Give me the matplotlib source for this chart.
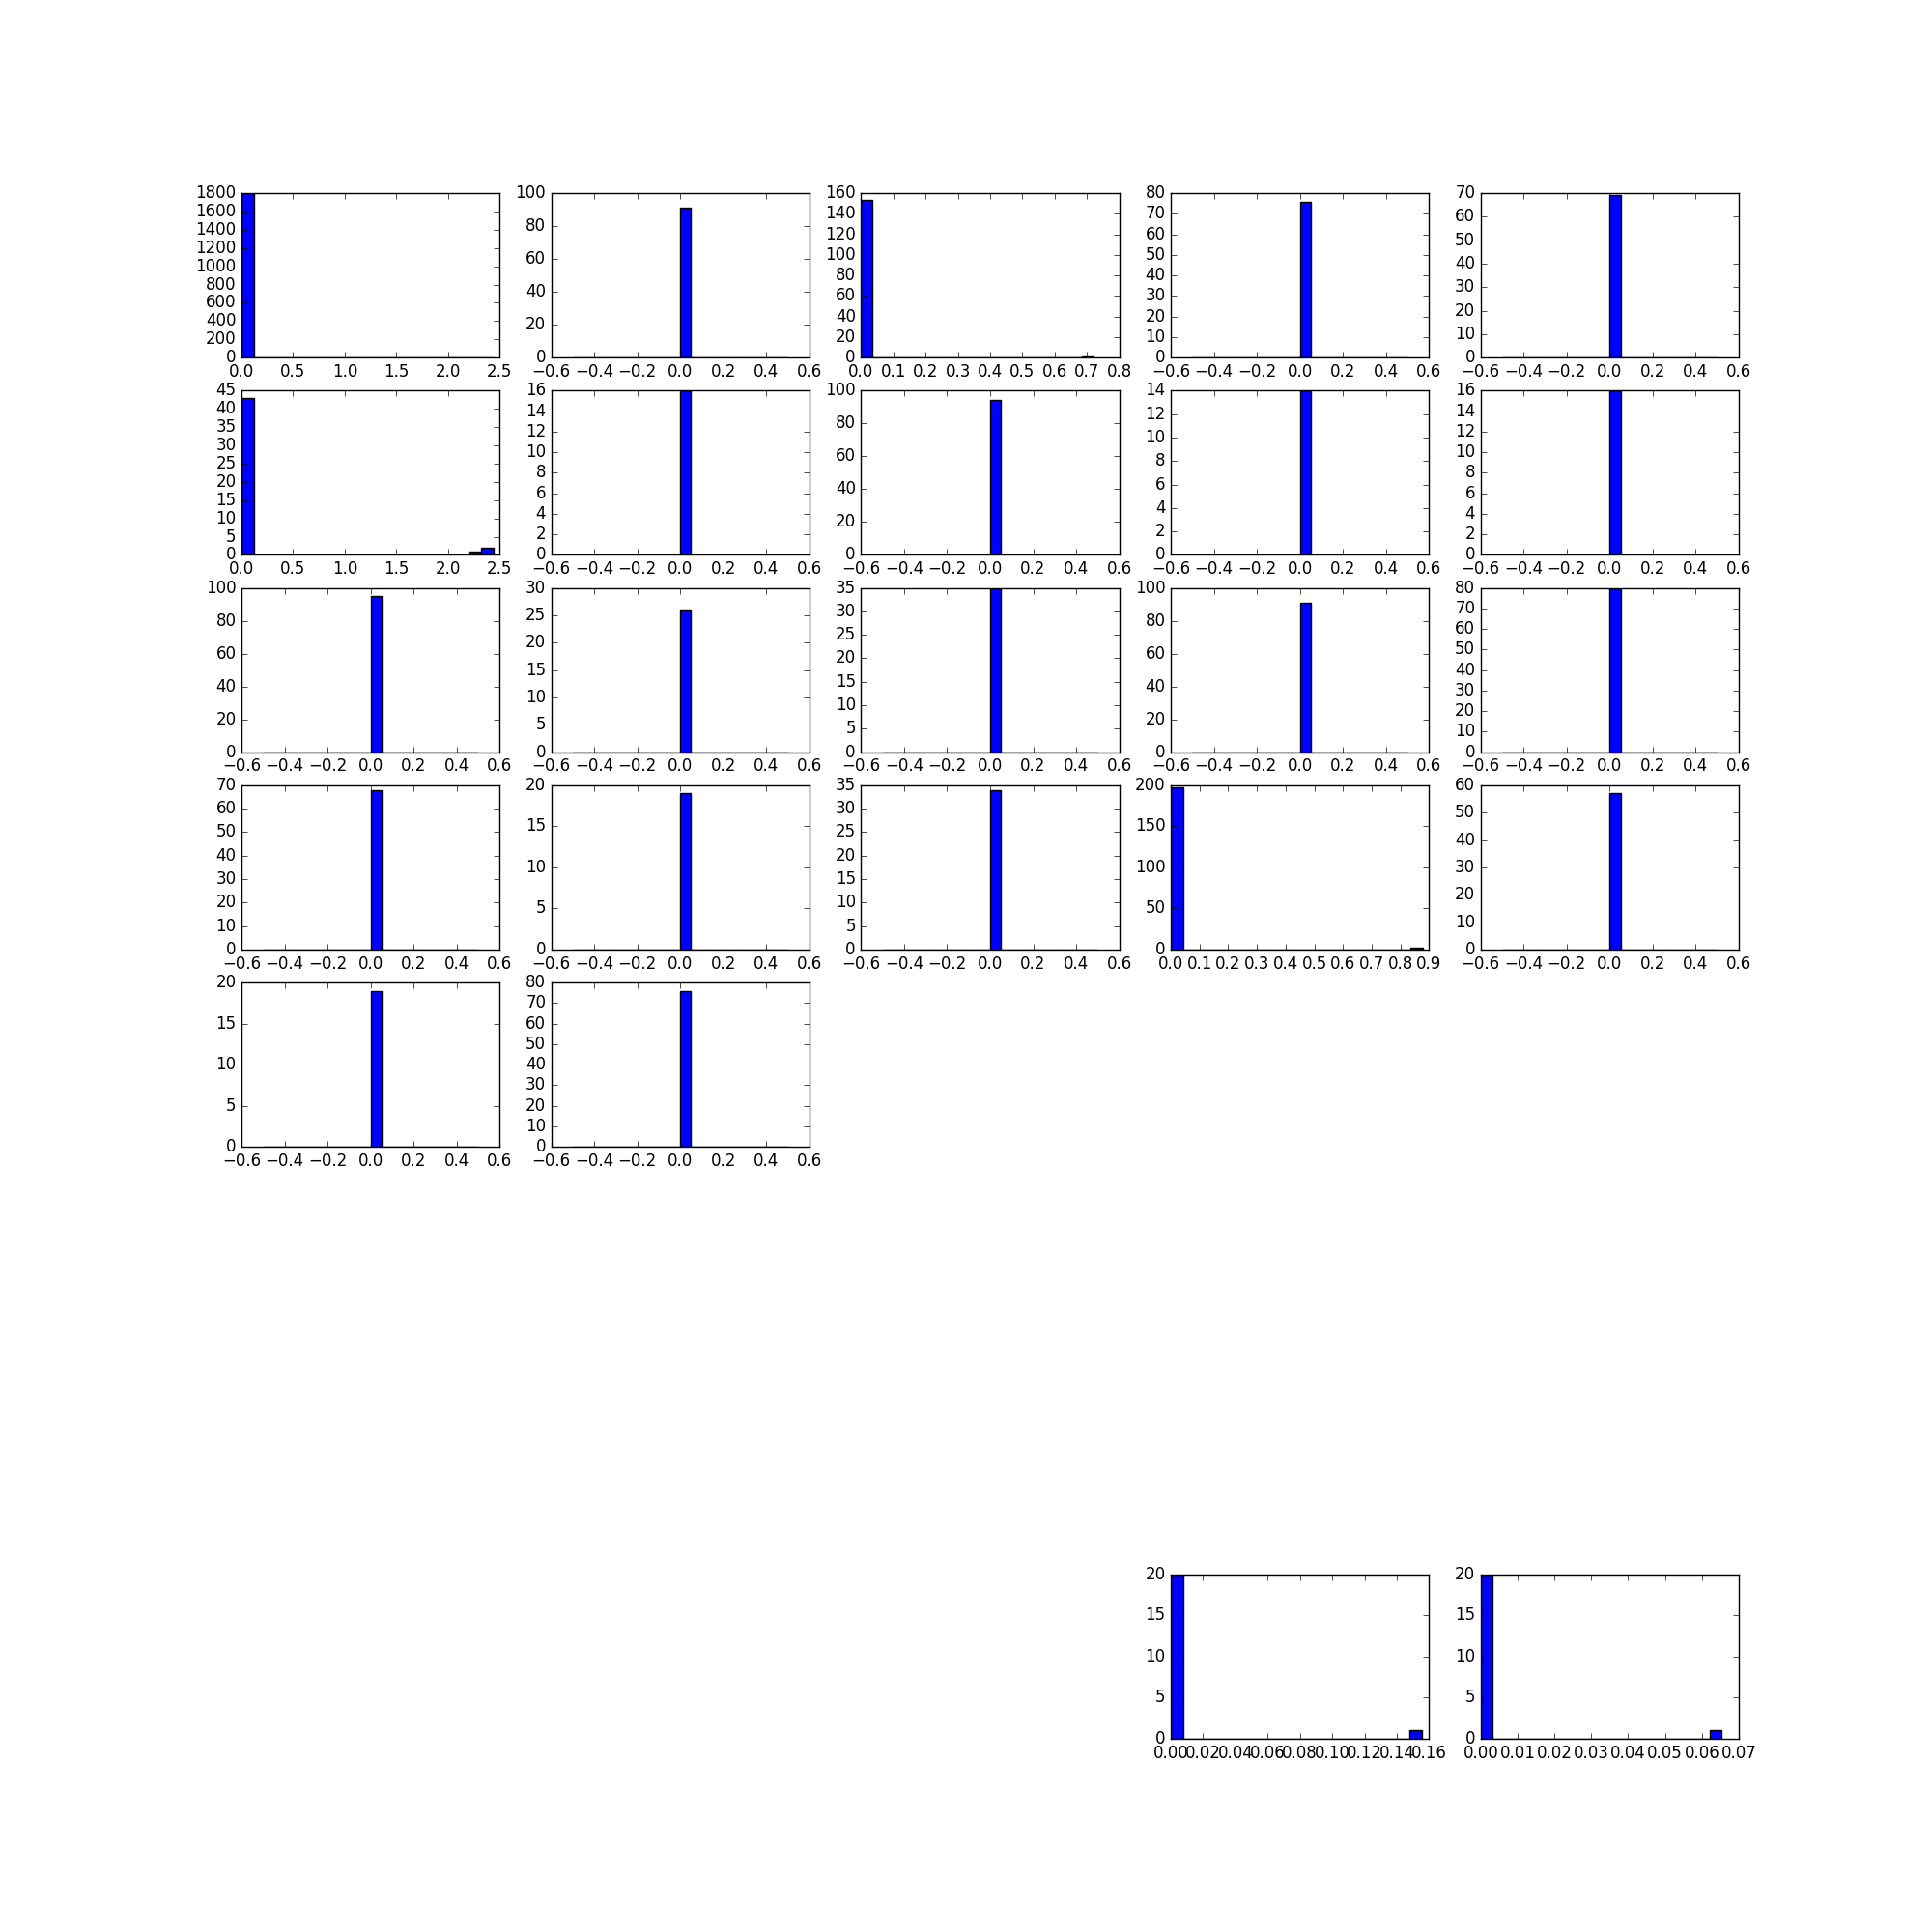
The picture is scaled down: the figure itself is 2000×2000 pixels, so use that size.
import matplotlib
matplotlib.use("Agg")
import matplotlib.pyplot as plt
from matplotlib.ticker import MaxNLocator
import numpy as np

# ---------------------------------------------------------------------------
# Histogram data (20 bins per panel)
# ---------------------------------------------------------------------------
# grid slot (8 rows x 5 cols, 0-based) of every drawn panel
panel_slots = [0, 1, 2, 3, 4,
               5, 6, 7, 8, 9,
               10, 11, 12, 13, 14,
               15, 16, 17, 18, 19,
               20, 21,
               38, 39]

# data range of each histogram
panel_lo = [0.0, -0.5, 0.0, -0.5, -0.5,
            0.0, -0.5, -0.5, -0.5, -0.5,
            -0.5, -0.5, -0.5, -0.5, -0.5,
            -0.5, -0.5, -0.5, 0.0, -0.5,
            -0.5, -0.5,
            0.0, 0.0]
panel_hi = [2.44, 0.5, 0.72, 0.5, 0.5,
            2.44, 0.5, 0.5, 0.5, 0.5,
            0.5, 0.5, 0.5, 0.5, 0.5,
            0.5, 0.5, 0.5, 0.88, 0.5,
            0.5, 0.5,
            0.1556, 0.0653]

# count in the tall bar (the bin that holds 0.0)
peak_counts = [1795, 91, 153, 76, 69,
               43, 16, 94, 14, 16,
               95, 26, 35, 91, 80,
               68, 19, 34, 197, 57,
               19, 76,
               20, 20]

# small counts in the upper tail: panel index -> [(bin, count), ...]
tail_counts = {
    0: [(19, 1)],
    2: [(19, 1)],
    5: [(18, 1), (19, 2)],
    18: [(19, 2)],
    22: [(19, 1)],
    23: [(19, 1)],
}

# x-axis view where the autoscale differs from the reference
x_view = {18: (0.0, 0.9)}

N_BINS = 20

plt.style.use("classic")
plt.rcParams["font.family"] = ["Liberation Sans Narrow", "DejaVu Sans"]

fig = plt.figure(figsize=(20, 20), dpi=100)

for i, slot in enumerate(panel_slots):
    ax = fig.add_subplot(8, 5, slot + 1)
    # old-style auto locator (max 9 intervals, 1-2-5 steps)
    ax.xaxis.set_major_locator(MaxNLocator(nbins=9, steps=[1, 2, 5, 10]))
    ax.yaxis.set_major_locator(MaxNLocator(nbins=9, steps=[1, 2, 5, 10]))

    edges = np.linspace(panel_lo[i], panel_hi[i], N_BINS + 1)
    counts = np.zeros(N_BINS)
    # the tall bar sits in the bin containing zero
    zero_bin = min(np.searchsorted(edges, 0.0, side="right") - 1, N_BINS - 1)
    counts[zero_bin] = peak_counts[i]
    for b, c in tail_counts.get(i, []):
        counts[b] = c
    ax.hist(edges[:-1], bins=edges, weights=counts)

    if i in x_view:
        ax.set_xlim(*x_view[i])

fig.savefig("out.png", dpi=100)
